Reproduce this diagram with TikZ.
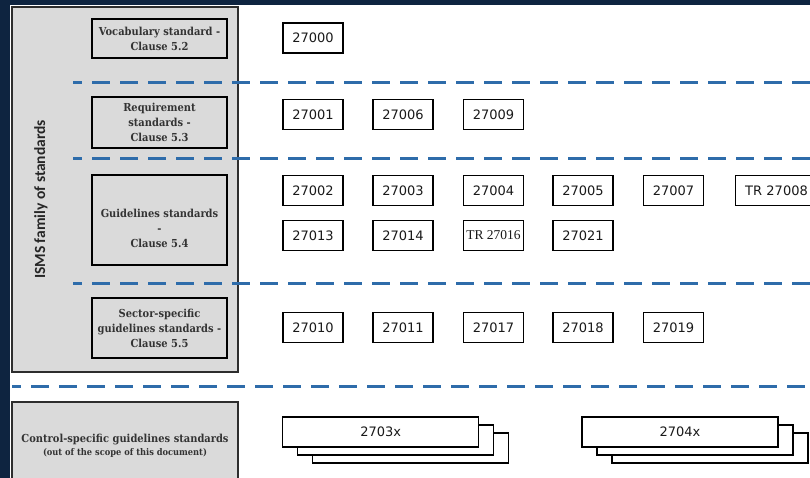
\documentclass[tikz,border=0pt]{standalone}
\usepackage{fontspec}
\setmainfont{Liberation Serif}
\newfontfamily\ismsfont{Carlito}
\newfontfamily\numfont{DejaVu Sans}
\newfontfamily\lblfont[FakeStretch=0.9]{DejaVu Serif}
\definecolor{navy}{RGB}{14,36,64}
\definecolor{panelgray}{RGB}{218,218,218}
\definecolor{dashblue}{RGB}{46,108,170}
\definecolor{edgegray}{RGB}{45,45,45}
\begin{document}
\begin{tikzpicture}[x=1pt,y=-1pt,
  lbltext/.style={align=center, font=\lblfont\bfseries\fontsize{11}{15}\selectfont, text=black!80, inner sep=0pt},
  lbl/.style={draw=black, line width=1.6pt, fill=panelgray, lbltext, minimum width=135pt},
  num/.style={draw=black, line width=1.3pt, fill=white, minimum width=60pt, minimum height=30pt,
    inner sep=0pt, font=\numfont\fontsize{13}{15}\selectfont, text=black!90},
  sep/.style={draw=dashblue, line width=3pt, dash pattern=on 17.5pt off 10.5pt, dash phase=9pt},
  stk/.style={draw=black, line width=1.3pt, fill=white, minimum width=196pt, minimum height=30pt,
    inner sep=0pt, font=\numfont\fontsize{13}{15}\selectfont, text=black!90}]
\useasboundingbox (0,0) rectangle (810,478);
\clip (0,0) rectangle (810,478);
% frame
\fill[navy] (0,0) rectangle (810,478);
\fill[white] (10,5) rectangle (812,480);
% ISMS panel
\node[draw=edgegray, line width=1.6pt, fill=panelgray, minimum width=226pt, minimum height=365pt, inner sep=0pt] (panel) at (125,189.5) {};
\node[rotate=90, font=\ismsfont\bfseries\fontsize{15.5}{18}\selectfont, text=black!85] (isms) at (41,199.5) {ISMS family of standards};
% dashed separators
\coordinate (d1a) at (73,83);  \coordinate (d1b) at (812,83);
\coordinate (d2a) at (73,159); \coordinate (d2b) at (812,159);
\coordinate (d3a) at (73,283); \coordinate (d3b) at (812,283);
\coordinate (d4a) at (12,386); \coordinate (d4b) at (812,386);
\draw[sep] (d1a) -- (d1b);
\draw[sep] (d2a) -- (d2b);
\draw[sep] (d3a) -- (d3b);
\draw[sep] (d4a) -- (d4b);
% category boxes
\node[lbl, minimum height=39pt] (voc) at (159.5,38.5) {Vocabulary standard -\\Clause 5.2};
\node[lbl, minimum height=51pt] (req) at (159.5,122.5) {Requirement\\standards -\\Clause 5.3};
\node[lbl, minimum height=90pt] (gui) at (159.5,220) {};
\node[lbltext] (guitext) at (159.5,228) {Guidelines standards\\-\\Clause 5.4};
\node[lbl, minimum height=60pt] (sec) at (159.5,328) {Sector-specific\\guidelines standards -\\Clause 5.5};
\node[draw=edgegray, line width=1.6pt, fill=panelgray, minimum width=226pt, minimum height=88pt, lbltext] (ctl) at (125,446)
  {Control-specific guidelines standards\\[-2pt]{\fontsize{9.2}{10}\selectfont (out of the scope of this document)}};
% standards
\node[num] (n27000) at (313,38) {27000};
\node[num] (n27001) at (313,114.5) {27001};
\node[num] (n27006) at (403,114.5) {27006};
\node[num] (n27009) at (493.5,114.5) {27009};
\node[num] (n27002) at (313,190.5) {27002};
\node[num] (n27003) at (403,190.5) {27003};
\node[num] (n27004) at (493.5,190.5) {27004};
\node[num] (n27005) at (583,190.5) {27005};
\node[num] (n27007) at (673.5,190.5) {27007};
\node[num, anchor=west, minimum width=0pt, inner xsep=10pt, text width=74pt, align=left] (n27008) at (734.5,190.5) {TR 27008};
\node[num] (n27013) at (313,235.5) {27013};
\node[num] (n27014) at (403,235.5) {27014};
\node[num, font=\fontsize{13.5}{15}\selectfont] (n27016) at (493.5,235.5) {TR 27016};
\node[num] (n27021) at (583,235.5) {27021};
\node[num] (n27010) at (313,327.5) {27010};
\node[num] (n27011) at (403,327.5) {27011};
\node[num] (n27017) at (493.5,327.5) {27017};
\node[num] (n27018) at (583,327.5) {27018};
\node[num] (n27019) at (673.5,327.5) {27019};
% stacked control families
\node[stk] (s3c) at (410.75,448) {};
\node[stk] (s3b) at (395.75,440) {};
\node[stk] (s3a) at (380.75,432) {2703x};
\node[stk] (s4c) at (710,448) {};
\node[stk] (s4b) at (695,440) {};
\node[stk] (s4a) at (680,432) {2704x};
\end{tikzpicture}
\end{document}
